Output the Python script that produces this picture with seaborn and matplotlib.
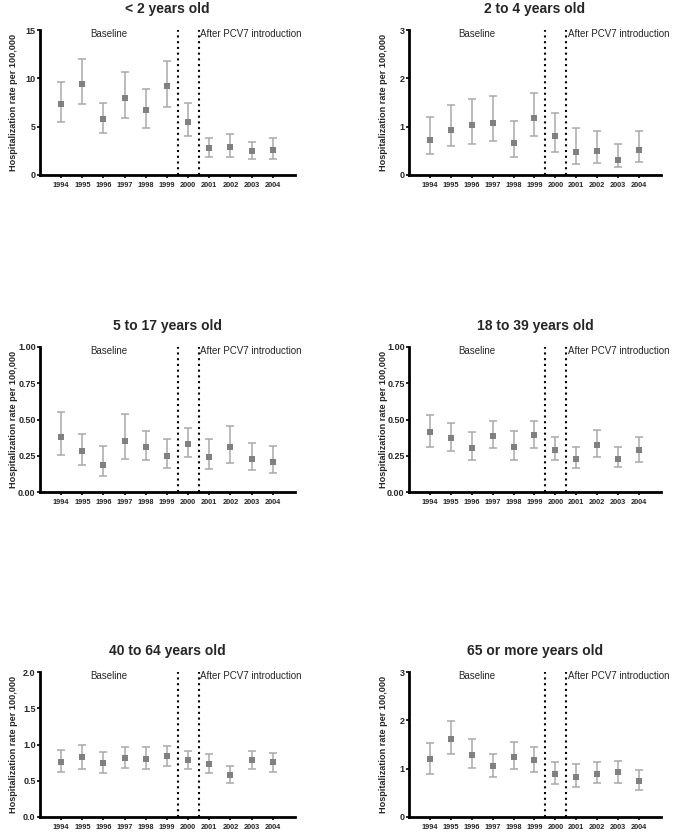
import matplotlib
matplotlib.use("Agg")
import matplotlib.pyplot as plt
import matplotlib.transforms as mtransforms
import seaborn as sns
import pandas as pd
import numpy as np

years = [1994, 1995, 1996, 1997, 1998, 1999, 2000, 2001, 2002, 2003, 2004]

titles = ["< 2 years old", "2 to 4 years old", "5 to 17 years old",
          "18 to 39 years old", "40 to 64 years old", "65 or more years old"]

rate_lt2 = [7.34, 9.45, 5.76, 7.93, 6.69, 9.17, 5.52, 2.79, 2.86, 2.45, 2.59]
upper_lt2 = [9.66, 12.0, 7.48, 10.62, 8.93, 11.83, 7.41, 3.83, 4.24, 3.38, 3.83]
lower_lt2 = [5.52, 7.34, 4.31, 5.86, 4.90, 7.03, 4.03, 1.90, 1.86, 1.69, 1.69]

rate_2to4 = [0.73, 0.94, 1.03, 1.08, 0.67, 1.17, 0.80, 0.48, 0.50, 0.32, 0.51]
upper_2to4 = [1.21, 1.44, 1.57, 1.64, 1.11, 1.70, 1.28, 0.98, 0.91, 0.64, 0.91]
lower_2to4 = [0.43, 0.60, 0.64, 0.70, 0.38, 0.80, 0.47, 0.22, 0.25, 0.16, 0.26]

rate_5to17 = [0.382, 0.280, 0.188, 0.354, 0.308, 0.248, 0.329, 0.243, 0.308, 0.229, 0.206]
upper_5to17 = [0.553, 0.400, 0.315, 0.539, 0.421, 0.363, 0.442, 0.363, 0.458, 0.338, 0.315]
lower_5to17 = [0.257, 0.188, 0.109, 0.229, 0.220, 0.164, 0.238, 0.160, 0.200, 0.150, 0.130]

rate_18to39 = [0.412, 0.375, 0.306, 0.387, 0.312, 0.391, 0.292, 0.231, 0.324, 0.231, 0.289]
upper_18to39 = [0.532, 0.479, 0.412, 0.491, 0.424, 0.493, 0.380, 0.310, 0.428, 0.308, 0.378]
lower_18to39 = [0.308, 0.285, 0.222, 0.303, 0.222, 0.303, 0.218, 0.167, 0.241, 0.169, 0.210]

rate_40to64 = [0.764, 0.824, 0.745, 0.819, 0.806, 0.838, 0.787, 0.736, 0.583, 0.787, 0.755]
upper_40to64 = [0.926, 0.995, 0.903, 0.972, 0.968, 0.981, 0.912, 0.866, 0.704, 0.917, 0.889]
lower_40to64 = [0.616, 0.662, 0.602, 0.680, 0.662, 0.699, 0.667, 0.611, 0.468, 0.667, 0.625]

rate_65plus = [1.19, 1.62, 1.285, 1.063, 1.25, 1.174, 0.889, 0.833, 0.896, 0.924, 0.75]
upper_65plus = [1.54, 1.986, 1.618, 1.3125, 1.549, 1.458, 1.132, 1.09, 1.132, 1.167, 0.979]
lower_65plus = [0.90, 1.306, 1.014, 0.833, 0.993, 0.924, 0.681, 0.625, 0.701, 0.708, 0.556]

ymax = [15, 3, 1.0, 1.0, 2.0, 3]
yticks = [[0, 5, 10, 15], [0, 1, 2, 3], [0.0, 0.25, 0.5, 0.75, 1.0],
          [0.0, 0.25, 0.5, 0.75, 1.0], [0.0, 0.5, 1.0, 1.5, 2.0], [0, 1, 2, 3]]
ytick_labels = [["0", "5", "10", "15"], ["0", "1", "2", "3"],
                ["0.00", "0.25", "0.50", "0.75", "1.00"],
                ["0.00", "0.25", "0.50", "0.75", "1.00"],
                ["0.0", "0.5", "1.0", "1.5", "2.0"], ["0", "1", "2", "3"]]

rates = [rate_lt2, rate_2to4, rate_5to17, rate_18to39, rate_40to64, rate_65plus]
uppers = [upper_lt2, upper_2to4, upper_5to17, upper_18to39, upper_40to64, upper_65plus]
lowers = [lower_lt2, lower_2to4, lower_5to17, lower_18to39, lower_40to64, lower_65plus]

sns.set_theme(style="ticks")
plt.rcParams['font.family'] = ['Liberation Sans', 'DejaVu Sans']

fig = plt.figure(figsize=(6.76, 8.34), dpi=100)

W, H = 676.0, 834.0
col_left = [40, 409]
col_w = [255, 252]
row_top = [30, 347, 672]
ax_h = 145

for i in range(6):
    r, c = divmod(i, 2)
    left = col_left[c] / W
    bottom = 1 - (row_top[r] + ax_h) / H
    ax = fig.add_axes([left, bottom, col_w[c] / W, ax_h / H])

    df = pd.DataFrame({"year": years, "rate": rates[i],
                       "upper": uppers[i], "lower": lowers[i]})
    yerr = np.vstack([df["rate"] - df["lower"], df["upper"] - df["rate"]])
    ax.errorbar(df["year"], df["rate"], yerr=yerr, fmt="none",
                ecolor="#a9a9a9", elinewidth=1.1, capsize=3.2, capthick=1.1,
                zorder=2)
    sns.scatterplot(data=df, x="year", y="rate", marker="s", s=20,
                    color="#808080", edgecolor="#808080", linewidth=0,
                    ax=ax, zorder=3, legend=False)

    ax.axvline(1999.5, color="black", linestyle=(0, (1, 1.75)), lw=1.5, zorder=1)
    ax.axvline(2000.5, color="black", linestyle=(0, (1, 1.75)), lw=1.5, zorder=1)

    ax.set_xlim(1993, 2005.05)
    ax.set_ylim(0, ymax[i])
    ax.set_xticks(years)
    ax.set_xticklabels([str(y) for y in years], fontsize=5.3, fontweight="bold")
    ax.set_yticks(yticks[i])
    ax.set_yticklabels(ytick_labels[i], fontsize=6.5, fontweight="bold")
    ax.tick_params(axis="both", length=2.2, width=1.2, color="black")
    ax.tick_params(axis="x", pad=3)
    ax.tick_params(axis="y", pad=1)

    for side in ["top", "right"]:
        ax.spines[side].set_visible(False)
    for side in ["left", "bottom"]:
        ax.spines[side].set_linewidth(2)
        ax.spines[side].set_color("black")

    ax.set_xlabel("")
    ax.set_ylabel("Hospitalization rate per 100,000", fontsize=6.6,
                  fontweight="bold")
    ax.yaxis.set_label_coords(-0.085, 0.5)
    ax.set_title(titles[i], fontsize=10, fontweight="bold", pad=12)

    trans = mtransforms.blended_transform_factory(ax.transData, ax.transAxes)
    ax.text(1996.25, 0.972, "Baseline", transform=trans, ha="center",
            va="center", fontsize=7, clip_on=False)
    ax.text(2000.58, 0.972, "After PCV7 introduction", transform=trans,
            ha="left", va="center", fontsize=7, clip_on=False)

fig.savefig("out.png", dpi=100)
